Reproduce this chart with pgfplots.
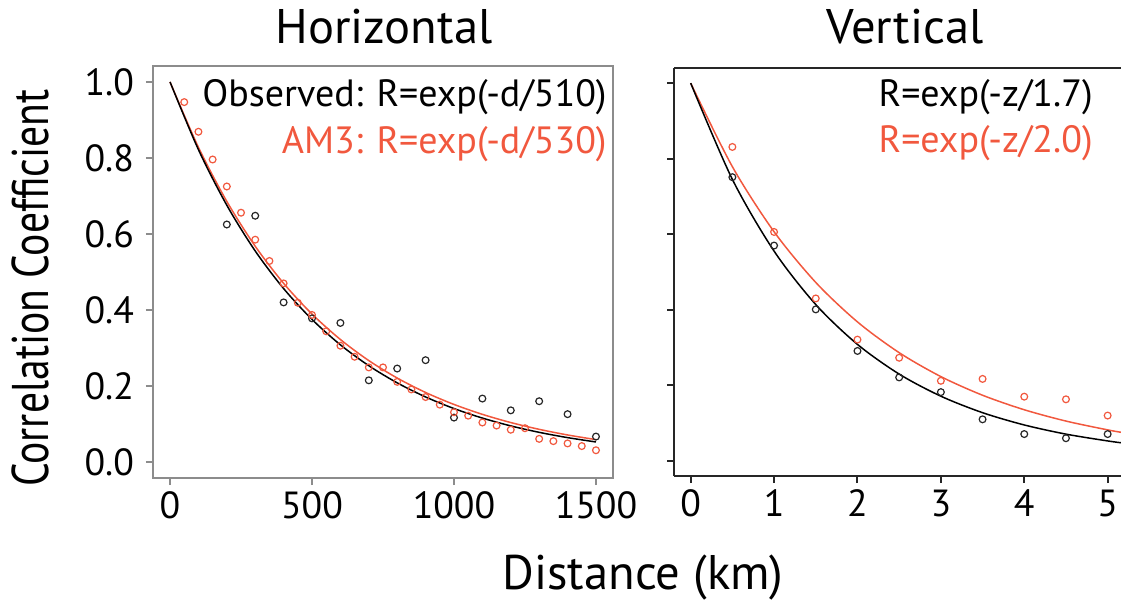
\documentclass[border=0pt]{standalone}
\usepackage{fontspec}
\setmainfont{PT Sans}
\usepackage{pgfplots}
\pgfplotsset{compat=1.18}
\definecolor{amred}{RGB}{241,88,62}
\newcommand\ticksize{\fontsize{18.9}{22}\selectfont}
\newcommand\titlesize{\fontsize{24.3}{28}\selectfont}
\newcommand\legsize{\fontsize{19}{22}\selectfont}
\newcommand\labsize{\fontsize{24.3}{28}\selectfont}

\begin{document}
\begin{tikzpicture}
\path[use as bounding box] (0,0) rectangle (560.5pt,300.5pt);

\pgfplotsset{
  corrpanel/.style={
    scale only axis,
    anchor=south west,
    ymin=-0.042, ymax=1.042,
    ytick={0,0.2,0.4,0.6,0.8,1.0},
    tick align=outside,
    major tick length=3.5pt,
    tick label style={font=\ticksize, /pgf/number format/assume math mode=true},
    yticklabel style={xshift=-2.5pt},
  },
}

% Horizontal
\begin{axis}[
  corrpanel,
  at={(76.5pt,61.5pt)},
  width=230pt, height=206pt,
  xmin=-60, xmax=1560,
  xtick={0,500,1000,1500}, xticklabels={0,500,1000,1500},
  yticklabels={0.0,0.2,0.4,0.6,0.8,1.0},
  xtick pos=left, ytick pos=left,
  axis line style={draw=black!45, line width=0.7pt},
  tick style={draw=black!45, line width=0.7pt},
]
% AM3 fit, R=exp(-d/530)
\addplot[amred, line width=0.75pt, smooth] coordinates {
  (0,1) (100,0.82805) (200,0.68567) (300,0.56777) (400,0.47014) (500,0.38930)
  (600,0.32236) (700,0.26693) (800,0.22103) (900,0.18302) (1000,0.15155)
  (1100,0.12549) (1200,0.10391) (1300,0.08605) (1400,0.07125) (1500,0.05900)
};
% observed fit, R=exp(-d/510)
\addplot[black, line width=0.75pt, smooth] coordinates {
  (0,1) (100,0.82195) (200,0.67560) (300,0.55531) (400,0.45644) (500,0.37517)
  (600,0.30837) (700,0.25346) (800,0.20834) (900,0.17124) (1000,0.14075)
  (1100,0.11569) (1200,0.09509) (1300,0.07816) (1400,0.06424) (1500,0.05281)
};
\addplot[only marks, mark=o, mark size=1.7pt, black!85, mark options={line width=0.6pt}] coordinates {
  (200,0.625) (300,0.648) (400,0.420) (500,0.378) (600,0.366) (700,0.215)
  (800,0.246) (900,0.268) (1000,0.117) (1100,0.167) (1200,0.136) (1300,0.160)
  (1400,0.126) (1500,0.067)
};
\addplot[only marks, mark=o, mark size=1.7pt, amred, mark options={line width=0.6pt}] coordinates {
  (50,0.947) (100,0.869) (150,0.796) (200,0.725) (250,0.656) (300,0.585)
  (350,0.529) (400,0.470) (450,0.419) (500,0.387) (550,0.344) (600,0.306)
  (650,0.277) (700,0.249) (750,0.249) (800,0.211) (850,0.191) (900,0.171)
  (950,0.151) (1000,0.131) (1050,0.122) (1100,0.104) (1150,0.096) (1200,0.085)
  (1250,0.089) (1300,0.061) (1350,0.055) (1400,0.049) (1450,0.042) (1500,0.031)
};
\end{axis}

% Vertical
\begin{axis}[
  corrpanel,
  at={(337pt,62.5pt)},
  width=223.5pt, height=204pt,
  ymin=-0.04, ymax=1.04,
  xmin=-0.2, xmax=5.16,
  xtick={0,1,2,3,4,5},
  yticklabels={},
  axis x line*=box, axis y line*=left,
  xtick pos=left, ytick pos=left,
  axis line style={draw=black!85, line width=1pt},
  tick style={draw=black!85, line width=1pt},
]
% AM3 fit, R=exp(-z/2.0)
\addplot[amred, line width=0.75pt, smooth] coordinates {
  (0,1) (0.5,0.77880) (1,0.60653) (1.5,0.47237) (2,0.36788) (2.5,0.28650)
  (3,0.22313) (3.5,0.17377) (4,0.13534) (4.5,0.10540) (5,0.08208) (5.2,0.07427)
};
% observed fit, R=exp(-z/1.7)
\addplot[black, line width=0.75pt, smooth] coordinates {
  (0,1) (0.5,0.74519) (1,0.55531) (1.5,0.41381) (2,0.30837) (2.5,0.22979)
  (3,0.17124) (3.5,0.12761) (4,0.09509) (4.5,0.07086) (5,0.05281) (5.2,0.04694)
};
\addplot[only marks, mark=o, mark size=1.7pt, black!85, mark options={line width=0.6pt}] coordinates {
  (0.5,0.751) (1,0.570) (1.5,0.401) (2,0.291) (2.5,0.221) (3,0.182)
  (3.5,0.110) (4,0.071) (4.5,0.060) (5,0.071)
};
\addplot[only marks, mark=o, mark size=1.7pt, amred, mark options={line width=0.6pt}] coordinates {
  (0.5,0.831) (1,0.606) (1.5,0.430) (2,0.321) (2.5,0.273) (3,0.212)
  (3.5,0.217) (4,0.170) (4.5,0.163) (5,0.120)
};
\end{axis}

% titles, fit labels, axis labels
\node[anchor=base, font=\titlesize] at (192pt,278.5pt) {Horizontal};
\node[anchor=base, font=\titlesize] at (452.5pt,278.5pt) {Vertical};
\node[anchor=base east, font=\legsize, inner sep=0pt] at (303.5pt,247pt) {Observed: R=exp(-d/510)};
\node[anchor=base east, font=\legsize, inner sep=0pt, text=amred] at (303.5pt,223.5pt) {AM3: R=exp(-d/530)};
\node[anchor=base east, font=\legsize, inner sep=0pt] at (546.5pt,247pt) {R=exp(-z/1.7)};
\node[anchor=base east, font=\legsize, inner sep=0pt, text=amred] at (546.5pt,224pt) {R=exp(-z/2.0)};
\node[anchor=base, font=\labsize, inner sep=0pt] at (321.5pt,6pt) {Distance (km)};
\node[anchor=base, rotate=90, font=\fontsize{20.8}{24}\selectfont, inner sep=0pt] at (24.5pt,156.5pt) {\scalebox{1}[1.24]{Correlation Coefficient}};
\end{tikzpicture}
\end{document}
